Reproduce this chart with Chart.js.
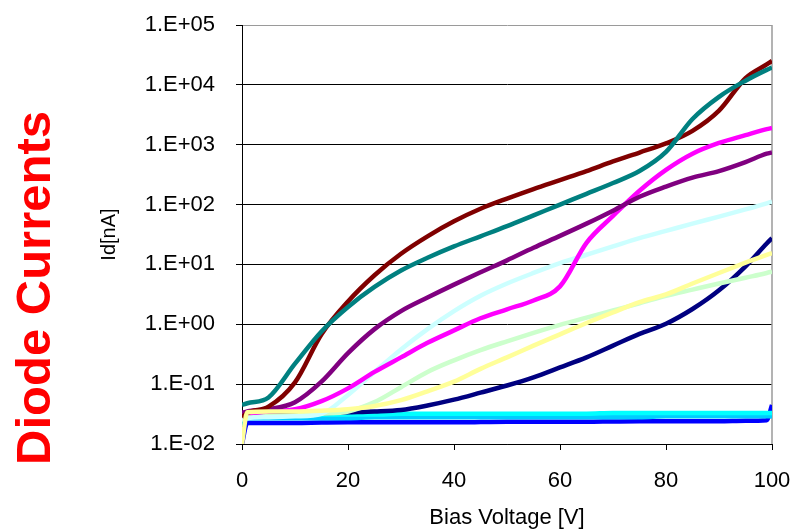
<!DOCTYPE html>
<html>
<head>
<meta charset="utf-8">
<script src="https://cdn.jsdelivr.net/npm/chart.js@4.4.1/dist/chart.umd.min.js"></script>
<style>
  html, body { margin: 0; padding: 0; background: #fff; }
</style>
</head>
<body>
<canvas id="diodectr" width="794" height="532"></canvas>
<script>
// bias voltage [V]
const voltages = [0, 1, 5, 10, 15, 20, 25, 30, 35, 40, 45, 50, 55, 60, 65, 70, 75, 80, 85, 90, 95, 99, 100];

// diode currents Id [nA], one array per diode
const diodeMaroon  = [0.028, 0.033, 0.042, 0.107, 0.68, 2.4, 6.6, 15.1, 29.5, 52.5, 85, 126, 182, 257, 363, 525, 741, 1050, 1700, 3700, 12900, 21900, 25100];
const diodeTeal    = [0.045, 0.048, 0.06, 0.22, 0.76, 1.95, 4.2, 7.9, 12.9, 20, 29.5, 43.6, 66, 100, 151, 229, 363, 759, 2690, 6310, 11750, 17800, 19500];
const diodePurple  = [0.033, 0.035, 0.038, 0.05, 0.11, 0.33, 0.83, 1.66, 2.8, 4.6, 7.4, 11.7, 19, 30, 48, 79, 135, 200, 282, 363, 513, 708, 741];
const diodeMagenta = [0.033, 0.033, 0.035, 0.038, 0.052, 0.085, 0.16, 0.28, 0.49, 0.79, 1.26, 1.78, 2.5, 4.3, 23, 64.6, 170, 380, 708, 1070, 1445, 1820, 1905];
const diodeIce     = [0.025, 0.027, 0.028, 0.029, 0.032, 0.066, 0.16, 0.38, 0.83, 1.66, 3.0, 4.8, 7.2, 10.5, 14.5, 20, 27.5, 36.3, 48, 63, 83, 105, 112];
const diodeMint    = [0.025, 0.028, 0.029, 0.03, 0.032, 0.035, 0.05, 0.089, 0.16, 0.25, 0.37, 0.52, 0.72, 0.98, 1.29, 1.7, 2.24, 3.0, 3.8, 4.8, 6.0, 7.2, 7.6];
const diodeYellow  = [0.01, 0.034, 0.035, 0.035, 0.036, 0.038, 0.043, 0.054, 0.076, 0.11, 0.18, 0.28, 0.44, 0.68, 1.05, 1.58, 2.34, 3.16, 4.8, 7.2, 10.7, 14.5, 15.5];
const diodeNavy    = [0.032, 0.032, 0.032, 0.033, 0.033, 0.034, 0.035, 0.037, 0.044, 0.055, 0.072, 0.095, 0.13, 0.19, 0.28, 0.44, 0.69, 1.02, 1.8, 3.7, 9.3, 22.4, 27.5];
const diodeCyan    = [0.025, 0.031, 0.031, 0.031, 0.031, 0.031, 0.031, 0.032, 0.032, 0.032, 0.032, 0.032, 0.032, 0.032, 0.032, 0.033, 0.033, 0.033, 0.033, 0.033, 0.033, 0.033, 0.033];
const diodeSky     = [0.02, 0.027, 0.027, 0.027, 0.027, 0.027, 0.028, 0.028, 0.028, 0.028, 0.028, 0.028, 0.028, 0.028, 0.028, 0.028, 0.028, 0.029, 0.029, 0.029, 0.029, 0.029, 0.029];
const diodeBlue    = [0.01, 0.0225, 0.0225, 0.0225, 0.0228, 0.023, 0.023, 0.023, 0.023, 0.023, 0.0232, 0.0235, 0.0235, 0.0235, 0.0235, 0.0238, 0.024, 0.024, 0.024, 0.024, 0.0245, 0.025, 0.045];

// y axis ticks
const yTicks = [0.01, 0.1, 1, 10, 100, 1000, 10000, 100000];
const yTickLabels = ['1.E-02', '1.E-01', '1.E+00', '1.E+01', '1.E+02', '1.E+03', '1.E+04', '1.E+05'];

const fontFamily = "'Liberation Sans', Arial, sans-serif";

const serie = (values, color) => ({
  data: values.map((v, i) => ({ x: voltages[i], y: v })),
  borderColor: color,
  borderWidth: 4.5,
  pointRadius: 0,
  cubicInterpolationMode: 'monotone',
  fill: false
});

// red title on the left + grey frame on the right
const sideDecor = {
  id: 'sideDecor',
  beforeDatasetsDraw(chart) {
    const { ctx, chartArea: a } = chart;
    ctx.save();
    ctx.strokeStyle = '#9a9a9a';
    ctx.lineWidth = 1.5;
    ctx.beginPath();
    ctx.moveTo(a.right, a.top);
    ctx.lineTo(a.right, a.bottom);
    ctx.stroke();
    ctx.restore();
  },
  afterDraw(chart) {
    const { ctx } = chart;
    ctx.save();
    ctx.translate(50, 288);
    ctx.rotate(-Math.PI / 2);
    ctx.textAlign = 'center';
    ctx.textBaseline = 'alphabetic';
    ctx.fillStyle = '#ff0000';
    ctx.font = 'bold 49px ' + fontFamily;
    ctx.fillText('Diode Currents', 0, 0);
    ctx.restore();
  }
};

const ctxDiodo = document.getElementById('diodectr').getContext('2d');
const chartDiodo = new Chart(ctxDiodo, {
  type: 'line',
  data: {
    datasets: [
      serie(diodeYellow, '#FFFF99'),
      serie(diodeTeal, '#008080'),
      serie(diodeMaroon, '#800000'),
      serie(diodePurple, '#800080'),
      serie(diodeMagenta, '#FF00FF'),
      serie(diodeIce, '#CCFFFF'),
      serie(diodeMint, '#CCFFCC'),
      serie(diodeNavy, '#000080'),
      serie(diodeCyan, '#00FFFF'),
      serie(diodeSky, '#00CCFF'),
      serie(diodeBlue, '#0000FF')
    ]
  },
  options: {
    responsive: false,
    animation: false,
    layout: { padding: { left: 0, top: 25, right: 22, bottom: 0 } },
    scales: {
      x: {
        type: 'linear',
        min: 0,
        max: 100,
        ticks: { stepSize: 20, color: '#000', padding: 18, font: { family: fontFamily, size: 22 } },
        grid: { drawOnChartArea: false, tickLength: 6, color: '#000' },
        border: { color: '#000' },
        title: { display: true, text: 'Bias Voltage [V]', color: '#000', font: { family: fontFamily, size: 22 }, padding: { top: 0, bottom: 1 } },
        afterFit: (axis) => { axis.height = 88; axis.paddingRight = 0; axis.paddingLeft = 0; }
      },
      y: {
        type: 'logarithmic',
        min: 0.01,
        max: 100000,
        afterBuildTicks: (axis) => { axis.ticks = yTicks.map(v => ({ value: v })); },
        afterFit: (axis) => { axis.width = 242; axis.paddingTop = 0; axis.paddingBottom = 0; },
        ticks: {
          color: '#000',
          padding: 21,
          font: { family: fontFamily, size: 22 },
          callback: (value, index) => yTickLabels[index]
        },
        grid: {
          color: (c) => (c.tick && c.tick.value === 100000 ? '#9a9a9a' : '#000'),
          tickColor: '#000',
          tickLength: 6
        },
        border: { color: '#000' },
        title: { display: true, text: 'Id[nA]', color: '#000', font: { family: fontFamily, size: 20 }, padding: { top: 97, bottom: 0 } }
      }
    },
    plugins: {
      legend: { display: false },
      tooltip: { enabled: false }
    }
  },
  plugins: [sideDecor]
});
</script>
</body>
</html>
